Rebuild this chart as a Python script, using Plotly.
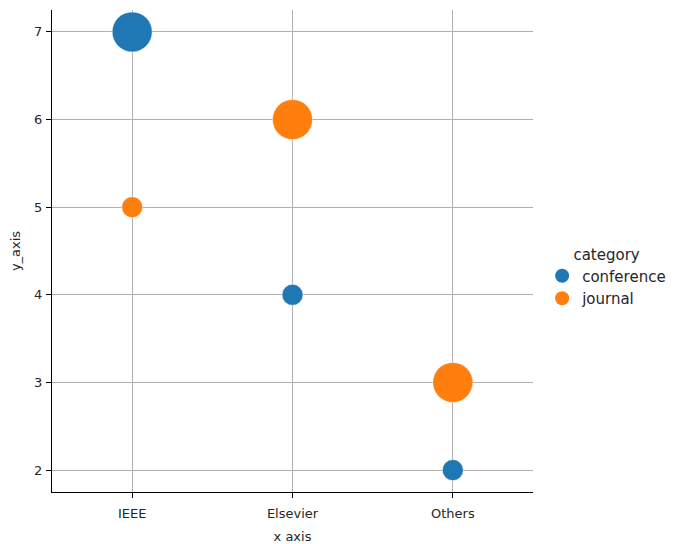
import plotly.graph_objects as go

publishers = ["IEEE", "Elsevier", "Others"]
conference_y = [7, 4, 2]
journal_y = [5, 6, 3]
conference_size = [2, 1, 1]
journal_size = [1, 2, 2]

BLUE = "#1f77b4"
ORANGE = "#ff7f0e"
size_px = {1: 21, 2: 40}

fig = go.Figure()
for name, ys, ss, col in [("conference", conference_y, conference_size, BLUE),
                          ("journal", journal_y, journal_size, ORANGE)]:
    fig.add_trace(go.Scatter(
        x=publishers, y=ys, mode="markers", name=name, showlegend=False,
        marker=dict(color=col, size=[size_px[s] for s in ss], opacity=1,
                    line=dict(color="white", width=0.5)),
    ))
    fig.add_trace(go.Scatter(
        x=[None], y=[None], mode="markers", name=name, showlegend=True,
        marker=dict(color=col, size=14, line=dict(width=0)),
    ))

axis_common = dict(
    showgrid=True, gridcolor="#b0b0b0", gridwidth=1,
    showline=True, linecolor="black", linewidth=1,
    ticks="outside", ticklen=5, tickcolor="black",
    tickfont=dict(size=13, color="#262626"), zeroline=False,
    title_font=dict(size=13, color="#262626"),
)

fig.update_layout(
    width=666, height=536,
    margin=dict(l=44, r=141, t=2, b=52),
    plot_bgcolor="white", paper_bgcolor="white",
    font=dict(family="DejaVu Sans", color="#262626"),
    xaxis=dict(axis_common, type="category", range=[-0.5, 2.5],
               ticklabelstandoff=4,
               title=dict(text="x axis", standoff=13)),
    yaxis=dict(axis_common, range=[1.75, 7.25], dtick=1,
               ticklabelstandoff=1,
               title=dict(text="y_axis", standoff=15)),
    legend=dict(title=dict(text="category", font=dict(size=15), side="top center"),
                font=dict(size=15), x=1.019, y=0.445, xanchor="left", yanchor="middle",
                bgcolor="rgba(0,0,0,0)", itemwidth=30),
)

fig.write_html("out.html")
